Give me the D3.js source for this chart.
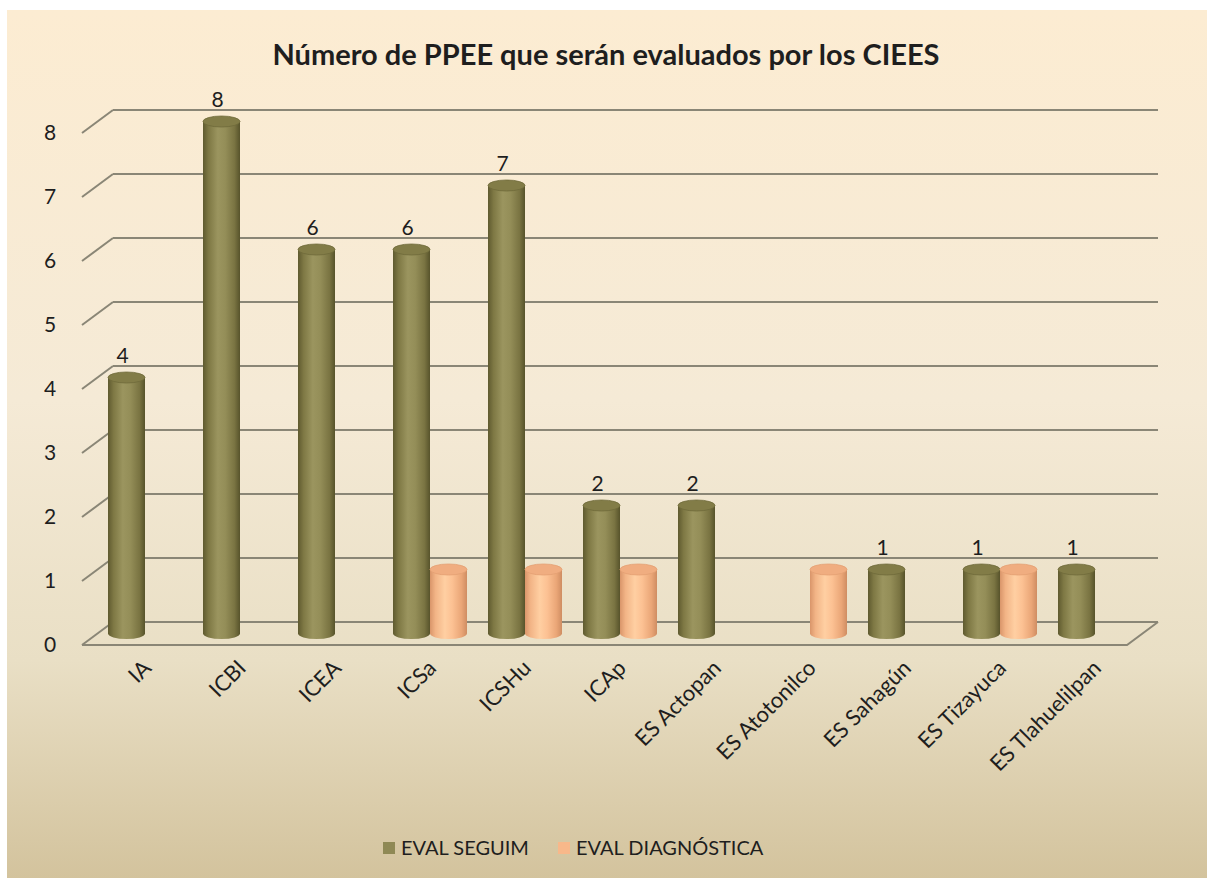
<!DOCTYPE html>
<html>
<head>
<meta charset="utf-8">
<script src="https://cdn.jsdelivr.net/npm/d3@7"></script>
<style>
  html,body{margin:0;padding:0;background:#fff;}
  svg{display:block;}
  text{font-family:Lato,"Open Sans",sans-serif;fill:#1e1e1e;}
</style>
</head>
<body>
<div id="chart"></div>
<script>
var categories = ['IA','ICBI','ICEA','ICSa','ICSHu','ICAp','ES Actopan','ES Atotonilco','ES Sahagún','ES Tizayuca','ES Tlahuelilpan']
var seguim = [4,8,6,6,7,2,2,0,1,1,1]
var diag = [0,0,0,1,1,1,0,1,0,1,0]
var seriesNames = ['EVAL SEGUIM','EVAL DIAGNÓSTICA']
var yTicks = [0,1,2,3,4,5,6,7,8]

var width = 1207, height = 878
var depthX = -31, depthY = 23   // back wall -> front edge
var svg = d3.select('#chart').append('svg')
    .attr('width',width).attr('height',height)

var defs = svg.append('defs')
var bg = defs.append('linearGradient').attr('id','bg')
    .attr('x1',0).attr('y1',0).attr('x2',0).attr('y2',1)
bg.append('stop').attr('offset','0%').attr('stop-color','#fcecd2')
bg.append('stop').attr('offset','45%').attr('stop-color','#f5ead6')
bg.append('stop').attr('offset','75%').attr('stop-color','#e9dfc5')
bg.append('stop').attr('offset','100%').attr('stop-color','#d3c39d')

var cyl = [
  {id:'g0', stops:['#5f5a2f','#7e7844','#9b955f','#948e58','#7a7442','#57532b'], top:'#827c47'},
  {id:'g1', stops:['#d9956a','#f2b486','#ffcfa2','#fcc193','#eaa677','#cf8d62'], top:'#f0ad80'}
]
cyl.forEach(c=>{
  var g = defs.append('linearGradient').attr('id',c.id)
  var offs = [0,0.15,0.4,0.6,0.85,1]
  c.stops.forEach((s,i)=>g.append('stop').attr('offset',offs[i]).attr('stop-color',s))
})

svg.append('rect').attr('x',7).attr('y',10)
    .attr('width',width-7).attr('height',height-10)
    .attr('fill','url(#bg)')

// scales (y on the back wall)
var y = d3.scaleLinear().domain([0,8]).range([622,110])
var x0 = d3.scaleBand().domain(categories).range([113,1158])
var x1 = d3.scaleBand().domain(seriesNames).range([-37,37])

var backL = x0.range()[0], backR = x0.range()[1]

// gridlines + side wall diagonals
var grid = svg.append('g').attr('stroke','#8a8676').attr('stroke-width',2).attr('fill','none')
yTicks.forEach(t=>{
  grid.append('line').attr('x1',backL).attr('x2',backR).attr('y1',y(t)).attr('y2',y(t))
  grid.append('line').attr('x1',backL).attr('y1',y(t))
      .attr('x2',backL+depthX).attr('y2',y(t)+depthY)
})
// floor front edge
grid.append('path')
    .attr('d',`M${backL+depthX},${y(0)+depthY}H${backR+depthX}L${backR},${y(0)}`)

// y tick labels
svg.append('g').selectAll('text').data(yTicks).join('text')
    .attr('x',50).attr('y',d=>y(d)+depthY)
    .attr('dy','0.35em').attr('text-anchor','middle')
    .style('font-size','21px')
    .text(d=>d)

// cylinders at mid depth
var midX = depthX/2, midY = depthY/2
var bw = x1.bandwidth(), ry = 5.5
var bars = []
categories.forEach((c,i)=>{
  [seguim[i],diag[i]].forEach((v,s)=>{
    if(v>0) bars.push({c:c,v:v,s:s})
  })
})
var bg2 = svg.append('g')
bars.forEach(b=>{
  var cx = x0(b.c)+x0.bandwidth()/2 + x1(seriesNames[b.s]) + bw/2 + midX
  var yt = y(b.v)+midY, yb = y(0)+midY
  var g = bg2.append('g')
  g.append('path')
      .attr('d',`M${cx-bw/2},${yt}V${yb}A${bw/2},${ry} 0 0 0 ${cx+bw/2},${yb}V${yt}Z`)
      .attr('fill',`url(#${cyl[b.s].id})`)
  g.append('ellipse').attr('cx',cx).attr('cy',yt).attr('rx',bw/2).attr('ry',ry)
      .attr('fill',cyl[b.s].top)
      .attr('stroke',b.s?'#e39f72':'#6f6a3a').attr('stroke-width',0.8)
  b.cx = cx; b.yt = yt
})

// value labels (first series)
svg.append('g').selectAll('text').data(bars.filter(b=>b.s===0)).join('text')
    .attr('x',b=>b.cx-4).attr('y',b=>b.yt-15)
    .attr('text-anchor','middle')
    .style('font-size','21px')
    .text(b=>b.v)

// category labels
svg.append('g').selectAll('text').data(categories).join('text')
    .attr('transform',d=>`translate(${x0(d)+x0.bandwidth()/2+midX+2},${664}) rotate(-45)`)
    .attr('text-anchor','end').attr('dy','0.35em')
    .style('font-size','22px')
    .text(d=>d)

// title
svg.append('text').attr('x',606).attr('y',65)
    .attr('text-anchor','middle')
    .style('font-size','29px').style('font-weight','bold')
    .text('Número de PPEE que serán evaluados por los CIEES')

// legend
var legend = svg.append('g')
var lx = [383,558]
seriesNames.forEach((n,i)=>{
  legend.append('rect').attr('x',lx[i]).attr('y',842).attr('width',12).attr('height',12)
      .attr('fill',i?'#f8b88a':'#8f8955')
  legend.append('text').attr('x',lx[i]+18).attr('y',848).attr('dy','0.35em')
      .style('font-size','20px').text(n)
})
</script>
</body>
</html>
